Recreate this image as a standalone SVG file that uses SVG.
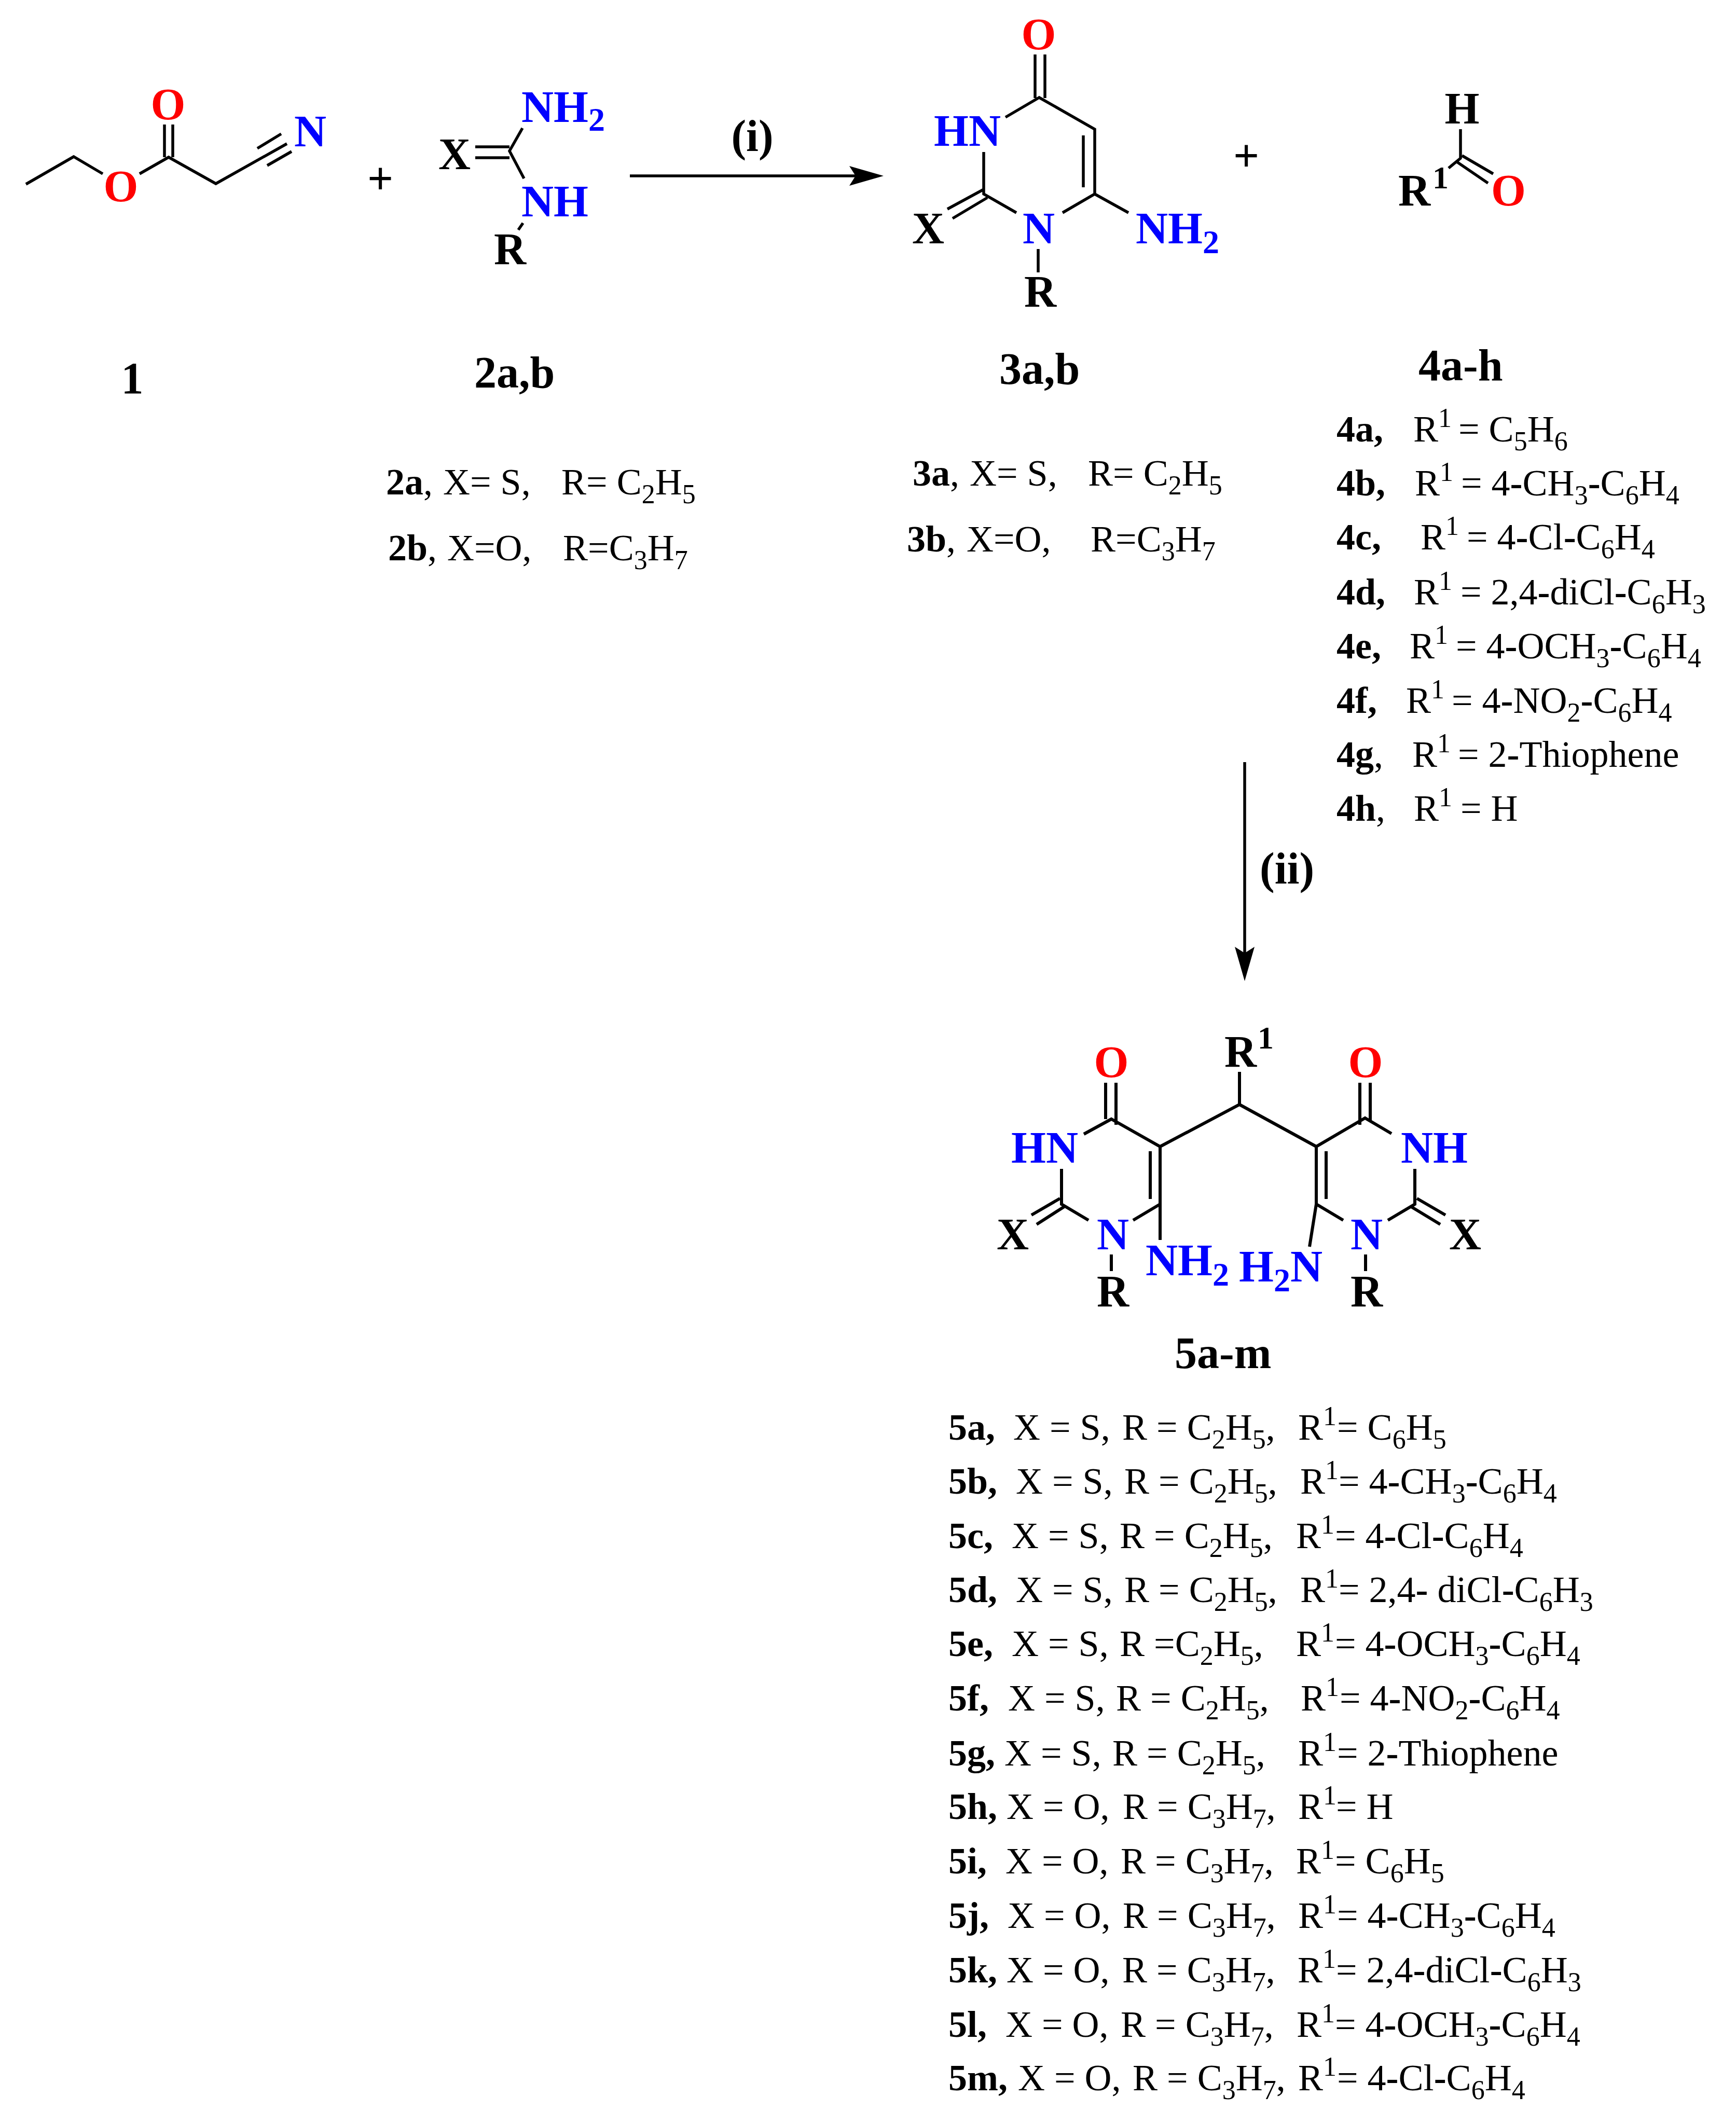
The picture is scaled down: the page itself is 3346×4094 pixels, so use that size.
<svg xmlns="http://www.w3.org/2000/svg" width="3346" height="4094" viewBox="0 0 3346 4094">
<style>
text{font-family:"Liberation Serif","Times New Roman",serif;fill:#000}
.a{font-size:86px;font-weight:700}
.blue{fill:#0000ff}
.red{fill:#ff0000}
.as{font-size:64px}
.au{font-size:62px}
.t{font-size:72px}
.b{font-weight:700}
.s{font-size:52px}
.u{font-size:52px}
.m{text-anchor:middle}
.plus{font-size:88px;font-weight:700}
.bond{stroke:#000;stroke-width:5.5;fill:none;stroke-linecap:butt}
.arrow{stroke:#000;stroke-width:5.5;fill:none}
</style>
<defs>
<marker id="head" markerUnits="userSpaceOnUse" viewBox="0 0 66 38" markerWidth="66" markerHeight="38" refX="12" refY="19" orient="auto">
<path d="M0,0 L66,19 L0,38 L12,19 Z" fill="#000"/>
</marker>
</defs>
<rect width="3346" height="4094" fill="#fff"/>

<g id="connectors">
<line class="arrow" x1="1214" y1="339" x2="1649" y2="339" marker-end="url(#head)"/>
<line class="arrow" x1="2399" y1="1469" x2="2399" y2="1837" marker-end="url(#head)"/>
</g>
<g id="conditions">
<text class="a m" x="1450" y="291">(i)</text>
<text class="a" x="2428" y="1703">(ii)</text>
</g>

<g id="compound-1">
<path class="bond" d="M50,355 L142,302 L198,335 M269,335 L325,303 L416,354 L553,277 M496,286 L542,258 M515,319 L562,292 M317,240 V303 M333,240 V303"/>
<text class="a red m" x="324" y="230">O</text>
<text class="a red m" x="233" y="388">O</text>
<text class="a blue" x="567" y="282">N</text>
<text class="a m" x="255" y="758">1</text>
</g>
<text id="plus-1" class="plus m" x="733" y="374">+</text>

<g id="compound-2">
<path class="bond" d="M1007,247 L982,291 L1010,344 M999,443 L1008,430 M916,283 H982 M916,304 H982"/>
<text class="a" x="845" y="326">X</text>
<text class="a blue" x="1005" y="235">NH<tspan class="as" dy="17">2</tspan></text>
<text class="a blue" x="1005" y="417">NH</text>
<text class="a" x="952" y="509">R</text>
<text class="a" x="914" y="747">2a,b</text>
</g>
<g id="list-2" transform="translate(-2,0)">
<text class="t" y="953"><tspan class="b" x="746">2a</tspan>,<tspan x="856">X= S,</tspan><tspan x="1084">R= C<tspan class="s" dy="17">2</tspan><tspan dy="-17">H</tspan><tspan class="s" dy="17">5</tspan></tspan></text>
<text class="t" y="1080"><tspan class="b" x="750">2b</tspan>,<tspan x="864">X=O,</tspan><tspan x="1087">R=C<tspan class="s" dy="17">3</tspan><tspan dy="-17">H</tspan><tspan class="s" dy="17">7</tspan></tspan></text>
</g>

<g id="compound-3">
<path class="bond" d="M1938,226 L2003,188 L2110,249 V374 L2048,410 M2110,374 L2175,410 M1959,410 L1896,374 V293 M1995,105 V189 M2014,105 V189 M2088,261 V361 M2001,480 V525 M1896,365 L1826,403 M1903,381 L1836,421"/>
<text class="a red m" x="2002" y="95">O</text>
<text class="a blue" x="1800" y="281">HN</text>
<text class="a blue m" x="2002" y="469">N</text>
<text class="a blue" x="2189" y="469">NH<tspan class="as" dy="19">2</tspan></text>
<text class="a" x="1758" y="469">X</text>
<text class="a m" x="2005" y="591">R</text>
<text class="a" x="1926" y="740">3a,b</text>
</g>
<g id="list-3" transform="translate(-2,0)">
<text class="t" y="936"><tspan class="b" x="1761">3a</tspan>,<tspan x="1871">X= S,</tspan><tspan x="2099">R= C<tspan class="s" dy="17">2</tspan><tspan dy="-17">H</tspan><tspan class="s" dy="17">5</tspan></tspan></text>
<text class="t" y="1063"><tspan class="b" x="1750">3b</tspan>,<tspan x="1865">X=O,</tspan><tspan x="2104">R=C<tspan class="s" dy="17">3</tspan><tspan dy="-17">H</tspan><tspan class="s" dy="17">7</tspan></tspan></text>
</g>
<text id="plus-2" class="plus m" x="2402" y="330">+</text>

<g id="compound-4">
<path class="bond" d="M2815,249 V305 L2792,324 M2818,300 L2878,335 M2808,312 L2868,353"/>
<text class="a m" x="2818" y="238">H</text>
<text class="a" x="2695" y="396">R<tspan class="au" dx="4" dy="-33">1</tspan></text>
<text class="a red" x="2874" y="396">O</text>
<text class="a" x="2734" y="733">4a-h</text>
</g>
<g id="list-4" transform="translate(-2,0)">
<text class="t" y="851"><tspan class="b" x="2578">4a,</tspan><tspan x="2726">R<tspan class="u" dy="-28">1</tspan></tspan><tspan x="2813" dy="28">= C<tspan class="s" dy="17">5</tspan><tspan dy="-17">H</tspan><tspan class="s" dy="17">6</tspan></tspan></text>
<text class="t" y="955"><tspan class="b" x="2578">4b,</tspan><tspan x="2729">R<tspan class="u" dy="-28">1</tspan></tspan><tspan x="2818" dy="28">= 4<tspan class="b">-</tspan>CH<tspan class="s" dy="17">3</tspan><tspan class="b" dy="-17">-</tspan>C<tspan class="s" dy="17">6</tspan><tspan dy="-17">H</tspan><tspan class="s" dy="17">4</tspan></tspan></text>
<text class="t" y="1059"><tspan class="b" x="2578">4c,</tspan><tspan x="2740">R<tspan class="u" dy="-28">1</tspan></tspan><tspan x="2829" dy="28">= 4<tspan class="b">-</tspan>Cl<tspan class="b">-</tspan>C<tspan class="s" dy="17">6</tspan><tspan dy="-17">H</tspan><tspan class="s" dy="17">4</tspan></tspan></text>
<text class="t" y="1165"><tspan class="b" x="2578">4d,</tspan><tspan x="2727">R<tspan class="u" dy="-28">1</tspan></tspan><tspan x="2817" dy="28">= 2,4<tspan class="b">-</tspan>diCl<tspan class="b">-</tspan>C<tspan class="s" dy="17">6</tspan><tspan dy="-17">H</tspan><tspan class="s" dy="17">3</tspan></tspan></text>
<text class="t" y="1269"><tspan class="b" x="2578">4e,</tspan><tspan x="2719">R<tspan class="u" dy="-28">1</tspan></tspan><tspan x="2808" dy="28">= 4<tspan class="b">-</tspan>OCH<tspan class="s" dy="17">3</tspan><tspan class="b" dy="-17">-</tspan>C<tspan class="s" dy="17">6</tspan><tspan dy="-17">H</tspan><tspan class="s" dy="17">4</tspan></tspan></text>
<text class="t" y="1374"><tspan class="b" x="2578">4f,</tspan><tspan x="2712">R<tspan class="u" dy="-28">1</tspan></tspan><tspan x="2800" dy="28">= 4<tspan class="b">-</tspan>NO<tspan class="s" dy="17">2</tspan><tspan class="b" dy="-17">-</tspan>C<tspan class="s" dy="17">6</tspan><tspan dy="-17">H</tspan><tspan class="s" dy="17">4</tspan></tspan></text>
<text class="t" y="1478"><tspan class="b" x="2578">4g</tspan>,<tspan x="2724">R<tspan class="u" dy="-28">1</tspan></tspan><tspan x="2812" dy="28">= 2<tspan class="b">-</tspan>Thiophene</tspan></text>
<text class="t" y="1582"><tspan class="b" x="2578">4h</tspan>,<tspan x="2727">R<tspan class="u" dy="-28">1</tspan></tspan><tspan x="2817" dy="28">= H</tspan></text>
</g>

<g id="compound-5">
<path class="bond" style="stroke-width:6" d="M2389,2066 V2129 L2236,2210 L2142,2157 L2089,2186 M2389,2129 L2537,2210 L2631,2155 L2682,2185 M2236,2210 V2390 M2236,2321 L2184,2352 M2098,2352 L2046,2321 V2253 M2131,2087 V2157 M2151,2087 V2168 M2217,2219 V2311 M2043,2310 L1988,2342 M2051,2326 L1998,2360 M2142,2418 V2450 M2537,2210 V2321 L2524,2403 M2537,2321 L2589,2352 M2556,2219 V2311 M2621,2087 V2168 M2641,2087 V2160 M2727,2253 V2321 L2675,2352 M2731,2310 L2786,2342 M2720,2326 L2776,2360 M2632,2418 V2450"/>
<text class="a" x="2360" y="2056">R</text>
<text class="a au" x="2424" y="2021">1</text>
<text class="a red m" x="2142" y="2076">O</text>
<text class="a red m" x="2632" y="2076">O</text>
<text class="a blue" x="1949" y="2241">HN</text>
<text class="a blue" x="2700" y="2241">NH</text>
<text class="a" x="1921" y="2408">X</text>
<text class="a" x="2793" y="2408">X</text>
<text class="a blue" x="2114" y="2408">N</text>
<text class="a blue" x="2603" y="2408">N</text>
<text class="a" x="2114" y="2518">R</text>
<text class="a" x="2603" y="2518">R</text>
<text class="a blue" x="2208" y="2458">NH<tspan class="as" dy="20">2</tspan></text>
<text class="a blue" x="2388" y="2470">H<tspan class="as" dy="19">2</tspan><tspan dy="-19">N</tspan></text>
<text class="a" x="2264" y="2637">5a-m</text>
</g>
<g id="list-5" transform="translate(-2,0)">
<text class="t" y="2775"><tspan class="b" x="1830">5a,</tspan><tspan x="1955">X = S,</tspan><tspan x="2165">R = C<tspan class="s" dy="17">2</tspan><tspan dy="-17">H</tspan><tspan class="s" dy="17">5</tspan><tspan dy="-17">,</tspan></tspan><tspan x="2504">R<tspan class="u" dy="-28">1</tspan></tspan><tspan x="2579" dy="28">= C<tspan class="s" dy="17">6</tspan><tspan dy="-17">H</tspan><tspan class="s" dy="17">5</tspan></tspan></text>
<text class="t" y="2879"><tspan class="b" x="1830">5b,</tspan><tspan x="1960">X = S,</tspan><tspan x="2169">R = C<tspan class="s" dy="17">2</tspan><tspan dy="-17">H</tspan><tspan class="s" dy="17">5</tspan><tspan dy="-17">,</tspan></tspan><tspan x="2508">R<tspan class="u" dy="-28">1</tspan></tspan><tspan x="2582" dy="28">= 4<tspan class="b">-</tspan>CH<tspan class="s" dy="17">3</tspan><tspan class="b" dy="-17">-</tspan>C<tspan class="s" dy="17">6</tspan><tspan dy="-17">H</tspan><tspan class="s" dy="17">4</tspan></tspan></text>
<text class="t" y="2984"><tspan class="b" x="1830">5c,</tspan><tspan x="1952">X = S,</tspan><tspan x="2160">R = C<tspan class="s" dy="17">2</tspan><tspan dy="-17">H</tspan><tspan class="s" dy="17">5</tspan><tspan dy="-17">,</tspan></tspan><tspan x="2500">R<tspan class="u" dy="-28">1</tspan></tspan><tspan x="2575" dy="28">= 4<tspan class="b">-</tspan>Cl<tspan class="b">-</tspan>C<tspan class="s" dy="17">6</tspan><tspan dy="-17">H</tspan><tspan class="s" dy="17">4</tspan></tspan></text>
<text class="t" y="3088"><tspan class="b" x="1830">5d,</tspan><tspan x="1960">X = S,</tspan><tspan x="2169">R = C<tspan class="s" dy="17">2</tspan><tspan dy="-17">H</tspan><tspan class="s" dy="17">5</tspan><tspan dy="-17">,</tspan></tspan><tspan x="2508">R<tspan class="u" dy="-28">1</tspan></tspan><tspan x="2582" dy="28">= 2,4<tspan class="b">-</tspan> diCl<tspan class="b">-</tspan>C<tspan class="s" dy="17">6</tspan><tspan dy="-17">H</tspan><tspan class="s" dy="17">3</tspan></tspan></text>
<text class="t" y="3192"><tspan class="b" x="1830">5e,</tspan><tspan x="1952">X = S,</tspan><tspan x="2160">R =C<tspan class="s" dy="17">2</tspan><tspan dy="-17">H</tspan><tspan class="s" dy="17">5</tspan><tspan dy="-17">,</tspan></tspan><tspan x="2500">R<tspan class="u" dy="-28">1</tspan></tspan><tspan x="2575" dy="28">= 4<tspan class="b">-</tspan>OCH<tspan class="s" dy="17">3</tspan><tspan class="b" dy="-17">-</tspan>C<tspan class="s" dy="17">6</tspan><tspan dy="-17">H</tspan><tspan class="s" dy="17">4</tspan></tspan></text>
<text class="t" y="3297"><tspan class="b" x="1830">5f,</tspan><tspan x="1945">X = S,</tspan><tspan x="2153">R = C<tspan class="s" dy="17">2</tspan><tspan dy="-17">H</tspan><tspan class="s" dy="17">5</tspan><tspan dy="-17">,</tspan></tspan><tspan x="2509">R<tspan class="u" dy="-28">1</tspan></tspan><tspan x="2584" dy="28">= 4<tspan class="b">-</tspan>NO<tspan class="s" dy="17">2</tspan><tspan class="b" dy="-17">-</tspan>C<tspan class="s" dy="17">6</tspan><tspan dy="-17">H</tspan><tspan class="s" dy="17">4</tspan></tspan></text>
<text class="t" y="3403"><tspan class="b" x="1830">5g,</tspan><tspan x="1938">X = S,</tspan><tspan x="2146">R = C<tspan class="s" dy="17">2</tspan><tspan dy="-17">H</tspan><tspan class="s" dy="17">5</tspan><tspan dy="-17">,</tspan></tspan><tspan x="2504">R<tspan class="u" dy="-28">1</tspan></tspan><tspan x="2579" dy="28">= 2<tspan class="b">-</tspan>Thiophene</tspan></text>
<text class="t" y="3506"><tspan class="b" x="1830">5h,</tspan><tspan x="1942">X = O,</tspan><tspan x="2166">R = C<tspan class="s" dy="17">3</tspan><tspan dy="-17">H</tspan><tspan class="s" dy="17">7</tspan><tspan dy="-17">,</tspan></tspan><tspan x="2504">R<tspan class="u" dy="-28">1</tspan></tspan><tspan x="2577" dy="28">= H</tspan></text>
<text class="t" y="3611"><tspan class="b" x="1830">5i,</tspan><tspan x="1940">X = O,</tspan><tspan x="2162">R = C<tspan class="s" dy="17">3</tspan><tspan dy="-17">H</tspan><tspan class="s" dy="17">7</tspan><tspan dy="-17">,</tspan></tspan><tspan x="2500">R<tspan class="u" dy="-28">1</tspan></tspan><tspan x="2575" dy="28">= C<tspan class="s" dy="17">6</tspan><tspan dy="-17">H</tspan><tspan class="s" dy="17">5</tspan></tspan></text>
<text class="t" y="3716"><tspan class="b" x="1830">5j,</tspan><tspan x="1944">X = O,</tspan><tspan x="2166">R = C<tspan class="s" dy="17">3</tspan><tspan dy="-17">H</tspan><tspan class="s" dy="17">7</tspan><tspan dy="-17">,</tspan></tspan><tspan x="2504">R<tspan class="u" dy="-28">1</tspan></tspan><tspan x="2579" dy="28">= 4<tspan class="b">-</tspan>CH<tspan class="s" dy="17">3</tspan><tspan class="b" dy="-17">-</tspan>C<tspan class="s" dy="17">6</tspan><tspan dy="-17">H</tspan><tspan class="s" dy="17">4</tspan></tspan></text>
<text class="t" y="3821"><tspan class="b" x="1830">5k,</tspan><tspan x="1942">X = O,</tspan><tspan x="2165">R = C<tspan class="s" dy="17">3</tspan><tspan dy="-17">H</tspan><tspan class="s" dy="17">7</tspan><tspan dy="-17">,</tspan></tspan><tspan x="2503">R<tspan class="u" dy="-28">1</tspan></tspan><tspan x="2577" dy="28">= 2,4<tspan class="b">-</tspan>diCl<tspan class="b">-</tspan>C<tspan class="s" dy="17">6</tspan><tspan dy="-17">H</tspan><tspan class="s" dy="17">3</tspan></tspan></text>
<text class="t" y="3926"><tspan class="b" x="1830">5l,</tspan><tspan x="1940">X = O,</tspan><tspan x="2162">R = C<tspan class="s" dy="17">3</tspan><tspan dy="-17">H</tspan><tspan class="s" dy="17">7</tspan><tspan dy="-17">,</tspan></tspan><tspan x="2501">R<tspan class="u" dy="-28">1</tspan></tspan><tspan x="2575" dy="28">= 4<tspan class="b">-</tspan>OCH<tspan class="s" dy="17">3</tspan><tspan class="b" dy="-17">-</tspan>C<tspan class="s" dy="17">6</tspan><tspan dy="-17">H</tspan><tspan class="s" dy="17">4</tspan></tspan></text>
<text class="t" y="4029"><tspan class="b" x="1830">5m,</tspan><tspan x="1964">X = O,</tspan><tspan x="2185">R = C<tspan class="s" dy="17">3</tspan><tspan dy="-17">H</tspan><tspan class="s" dy="17">7</tspan><tspan dy="-17">,</tspan></tspan><tspan x="2504">R<tspan class="u" dy="-28">1</tspan></tspan><tspan x="2579" dy="28">= 4<tspan class="b">-</tspan>Cl<tspan class="b">-</tspan>C<tspan class="s" dy="17">6</tspan><tspan dy="-17">H</tspan><tspan class="s" dy="17">4</tspan></tspan></text>
</g>
</svg>
